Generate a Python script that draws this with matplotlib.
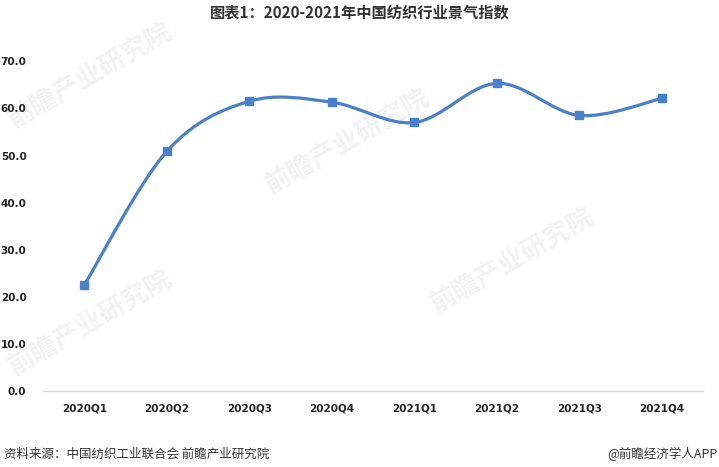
import numpy as np
import matplotlib.pyplot as plt
from matplotlib.path import Path
from matplotlib.patches import PathPatch

plt.rcParams['font.family'] = ['Noto Sans CJK SC', 'DejaVu Sans']

# --- data ---
quarters = ['2020Q1', '2020Q2', '2020Q3', '2020Q4', '2021Q1', '2021Q2', '2021Q3', '2021Q4']
index_values = [22.6, 50.9, 61.5, 61.3, 57.0, 65.3, 58.5, 62.1]
y_ticks = [0, 10, 20, 30, 40, 50, 60, 70]

blue = '#4a7fca'

fig = plt.figure(figsize=(7.19, 4.67), dpi=100)
ax = fig.add_axes([0.060, 0.162, 0.918, 0.707])

x = np.arange(len(quarters))
y = np.array(index_values)

# Excel-like smoothed line: cubic bezier with control points from neighbours
verts = [(x[0], y[0])]
codes = [Path.MOVETO]
for i in range(len(x) - 1):
    p0 = np.array([x[max(i - 1, 0)], y[max(i - 1, 0)]])
    p1 = np.array([x[i], y[i]])
    p2 = np.array([x[i + 1], y[i + 1]])
    p3 = np.array([x[min(i + 2, len(x) - 1)], y[min(i + 2, len(x) - 1)]])
    c1 = p1 + (p2 - p0) / 6
    c2 = p2 - (p3 - p1) / 6
    verts += [tuple(c1), tuple(c2), tuple(p2)]
    codes += [Path.CURVE4] * 3
ax.add_patch(PathPatch(Path(verts, codes), facecolor='none', edgecolor=blue,
                       lw=2.3, capstyle='round', zorder=3))
ax.plot(x, y, linestyle='none', marker='s', markersize=5.5, color=blue, zorder=4)

ax.set_xlim(-0.5, len(quarters) - 0.5)
ax.set_ylim(0, 70)
ax.set_yticks(y_ticks)
ax.set_yticklabels([f'{v:.1f}' for v in y_ticks], fontsize=7.5, fontweight='bold',
                   color='#222222', family='DejaVu Sans')
ax.set_xticks(x)
ax.set_xticklabels(quarters, fontsize=7.5, fontweight='bold', color='#222222',
                   family='DejaVu Sans')
ax.tick_params(axis='y', length=0, pad=12)
ax.tick_params(axis='x', length=0, pad=9)
for s in ['top', 'right', 'left']:
    ax.spines[s].set_visible(False)
ax.spines['bottom'].set_color('#d9d9d9')
ax.spines['bottom'].set_linewidth(1)

# faint watermarks, behind the line
for wx, wy in [(-0.06, 0.80), (0.33, 0.60), (-0.06, 0.05), (0.58, 0.24)]:
    ax.text(wx, wy, '前瞻产业研究院', transform=ax.transAxes, fontsize=19,
            color='#f1f2f5', rotation=30, fontweight='bold', zorder=0, clip_on=False)

fig.text(0.5, 0.972, '图表1：2020-2021年中国纺织行业景气指数', ha='center', va='center',
         fontsize=11, fontweight='bold', color='#333333')
fig.text(0.006, 0.027, '资料来源：中国纺织工业联合会 前瞻产业研究院', ha='left', va='center',
         fontsize=9, color='#333333')
fig.text(0.998, 0.027, '@前瞻经济学人APP', ha='right', va='center',
         fontsize=9, color='#333333')

fig.savefig('out.png', dpi=100)
